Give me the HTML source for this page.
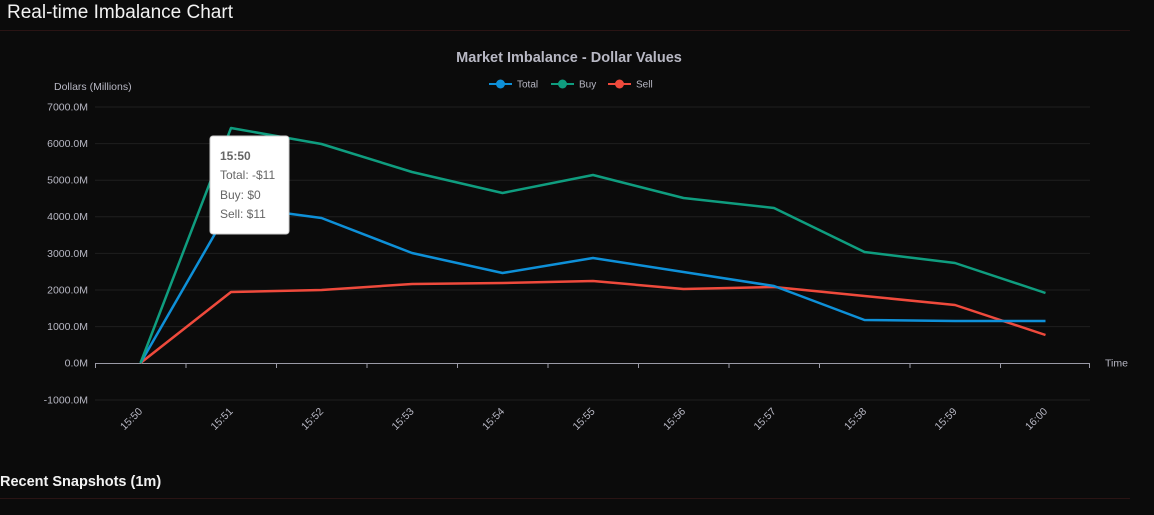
<!DOCTYPE html>
<html><head><meta charset="utf-8"><style>
html,body{margin:0;padding:0;background:#0b0b0b;width:1154px;height:515px;overflow:hidden}
svg{display:block}
</style></head><body>
<svg width="1154" height="515" xmlns="http://www.w3.org/2000/svg" font-family="Liberation Sans, Arial, sans-serif">
<rect width="1154" height="515" fill="#0b0b0b"/>
<text x="7" y="18" font-size="19" fill="#f2f2f2">Real-time Imbalance Chart</text>
<line x1="0" y1="30.5" x2="1130" y2="30.5" stroke="#2a1414"/>
<text x="569" y="62" font-size="14.5" font-weight="bold" fill="#b8b8c4" text-anchor="middle">Market Imbalance - Dollar Values</text>
<g font-size="10" fill="#b8b8c4">
<line x1="489" y1="84" x2="512" y2="84" stroke="#0e90d8" stroke-width="2"/><circle cx="500.5" cy="84" r="4.5" fill="#0e90d8"/><text x="517" y="87.5">Total</text>
<line x1="551" y1="84" x2="574" y2="84" stroke="#0f9d7f" stroke-width="2"/><circle cx="562.5" cy="84" r="4.5" fill="#0f9d7f"/><text x="579" y="87.5">Buy</text>
<line x1="608" y1="84" x2="631" y2="84" stroke="#ef4a3c" stroke-width="2"/><circle cx="619.5" cy="84" r="4.5" fill="#ef4a3c"/><text x="636" y="87.5">Sell</text>
</g>
<text x="54" y="90" font-size="10.5" fill="#b8b8c4">Dollars (Millions)</text>
<g stroke="#1f1f1f" stroke-width="1">
<line x1="95" y1="107" x2="1090" y2="107"/>
<line x1="95" y1="143.6" x2="1090" y2="143.6"/>
<line x1="95" y1="180.2" x2="1090" y2="180.2"/>
<line x1="95" y1="216.8" x2="1090" y2="216.8"/>
<line x1="95" y1="253.4" x2="1090" y2="253.4"/>
<line x1="95" y1="290" x2="1090" y2="290"/>
<line x1="95" y1="326.6" x2="1090" y2="326.6"/>
<line x1="95" y1="400" x2="1090" y2="400"/>
</g>
<line x1="95" y1="363.5" x2="1090" y2="363.5" stroke="#9a9aa6" stroke-width="1"/>
<g stroke="#9a9aa6">
<line x1="95.5" y1="363" x2="95.5" y2="368"/><line x1="186" y1="363" x2="186" y2="368"/><line x1="276.5" y1="363" x2="276.5" y2="368"/><line x1="367" y1="363" x2="367" y2="368"/><line x1="457.5" y1="363" x2="457.5" y2="368"/><line x1="548" y1="363" x2="548" y2="368"/><line x1="638.5" y1="363" x2="638.5" y2="368"/><line x1="729" y1="363" x2="729" y2="368"/><line x1="819.5" y1="363" x2="819.5" y2="368"/><line x1="910" y1="363" x2="910" y2="368"/><line x1="1000.5" y1="363" x2="1000.5" y2="368"/><line x1="1089.5" y1="363" x2="1089.5" y2="368"/>
</g>
<g font-size="10.5" fill="#b8b8c4" text-anchor="end">
<text x="88" y="110.5">7000.0M</text><text x="88" y="147">6000.0M</text><text x="88" y="183.5">5000.0M</text><text x="88" y="220">4000.0M</text><text x="88" y="257">3000.0M</text><text x="88" y="293.5">2000.0M</text><text x="88" y="330">1000.0M</text><text x="88" y="366.5">0.0M</text><text x="88" y="403.5">-1000.0M</text>
</g>
<text x="1105" y="366.5" font-size="10.5" fill="#b8b8c4">Time</text>
<g font-size="10.5" fill="#b8b8c4" text-anchor="end">
<text transform="translate(143,412) rotate(-45)">15:50</text>
<text transform="translate(233.5,412) rotate(-45)">15:51</text>
<text transform="translate(324,412) rotate(-45)">15:52</text>
<text transform="translate(414.5,412) rotate(-45)">15:53</text>
<text transform="translate(505,412) rotate(-45)">15:54</text>
<text transform="translate(595.5,412) rotate(-45)">15:55</text>
<text transform="translate(686,412) rotate(-45)">15:56</text>
<text transform="translate(776.5,412) rotate(-45)">15:57</text>
<text transform="translate(867,412) rotate(-45)">15:58</text>
<text transform="translate(957.5,412) rotate(-45)">15:59</text>
<text transform="translate(1048,412) rotate(-45)">16:00</text>
</g>
<g fill="none" stroke-width="2.5" stroke-linejoin="round">
<polyline stroke="#ef4a3c" points="140.5,363 231,292 321.5,290 412,284 502.5,283 593,281 683.5,289 774,287 864.5,296 955,305 1045.5,335"/>
<polyline stroke="#0e90d8" points="140.5,363 231,206 321.5,218 412,253 502.5,273 593,258 683.5,272 774,286 864.5,320 955,321 1045.5,321"/>
<polyline stroke="#0f9d7f" points="140.5,363 231,128 321.5,144 412,172 502.5,193 593,175 683.5,198 774,208 864.5,252 955,263 1045.5,293"/>
</g>
<rect x="210" y="136" width="79" height="98" rx="3" fill="#ffffff" stroke="#ccc"/>
<g font-size="12" fill="#666">
<text x="220" y="160" font-weight="bold">15:50</text>
<text x="220" y="179">Total: -$11</text>
<text x="220" y="199">Buy: $0</text>
<text x="220" y="218">Sell: $11</text>
</g>
<text x="0" y="486" font-size="14.5" font-weight="bold" fill="#f2f2f2">Recent Snapshots (1m)</text>
<line x1="0" y1="498.5" x2="1130" y2="498.5" stroke="#2a1414"/>
</svg>
</body></html>
